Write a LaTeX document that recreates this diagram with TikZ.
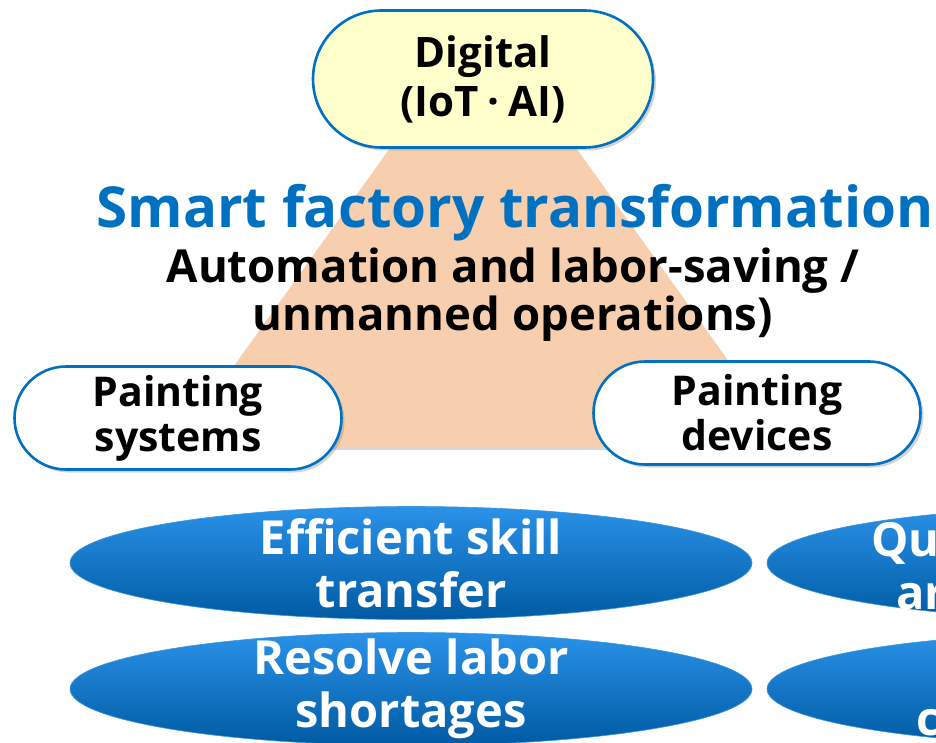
\documentclass[tikz,border=0pt]{standalone}
\usepackage{fontspec}
\setmainfont{Open Sans}
\usetikzlibrary{shapes.misc,shapes.geometric,shadows}

\definecolor{frameblue}{HTML}{0070C0}
\definecolor{peach}{HTML}{F8CFAE}
\definecolor{lightyellow}{HTML}{FFFFCC}
\definecolor{goaltop}{HTML}{2A92E8}
\definecolor{goalbottom}{HTML}{005AA3}
\definecolor{goaledge}{HTML}{3C97E0}

\newcommand{\fsz}[2]{\fontsize{#1}{#2}\selectfont}

\tikzset{
  pill/.style={rounded rectangle, draw=frameblue, line width=2.6pt,
    align=center, inner sep=0pt, font=\bfseries\fsz{41}{45},
    drop shadow={opacity=0.35, shadow xshift=3pt, shadow yshift=-3pt}},
  goal/.style={ellipse, top color=goaltop, bottom color=goalbottom,
    draw=goaledge, line width=0.6pt, inner sep=0pt,
    minimum width=682pt, minimum height=113pt},
  goaltext/.style={text=white, font=\bfseries\fsz{47}{53}, align=center}
}

\begin{document}
\begin{tikzpicture}[x=1pt, y=-1pt]
  \useasboundingbox (0,0) rectangle (936,743);
  \clip (0,0) rectangle (936,743);

  % Triangle behind everything
  \fill[peach, drop shadow={opacity=0.3, shadow xshift=2pt, shadow yshift=-3pt}]
    (483,18) -- (176,447) -- (790,447) -- cycle;

  % Top corner
  \node[pill, fill=lightyellow, minimum width=340pt, minimum height=137pt,
    font=\bfseries\fsz{42}{49}] (digital) at (483,79)
    {Digital\\(IoT\hspace{9pt}·\hspace{9pt}AI)};

  % Heading
  \node[text=frameblue, font=\bfseries\fsz{56.5}{60}, anchor=base] (title)
    at (515,228) {Smart factory transformation};
  \node[font=\bfseries\fsz{45.5}{48}, align=center, anchor=base] (subtitle)
    at (513,330) {Automation and labor-saving /\\unmanned operations)};

  % Bottom corners
  \node[pill, fill=white, minimum width=327pt, minimum height=103pt]
    (systems) at (178,418) {Painting\\systems};
  \node[pill, fill=white, minimum width=327pt, minimum height=103pt]
    (devices) at (757,413) {Painting\\devices};

  % Goals
  \node[goal] (skill) at (411,563) {};
  \node[goaltext] at (skill) {Efficient skill\\transfer};
  \node[goal] (labor) at (411,689) {};
  \node[goaltext] at (labor) {Resolve labor\\shortages};

  % Goals cut off at the right edge
  \node[goal] (quality) at (1108,563) {};
  \node[goaltext, anchor=base west] at (868,556) {Qu};
  \node[goaltext, anchor=base west] at (893,609) {ar};
  \node[goal] (cost) at (1108,689) {};
  \node[goaltext, anchor=base west] at (913,735) {c};
\end{tikzpicture}
\end{document}
